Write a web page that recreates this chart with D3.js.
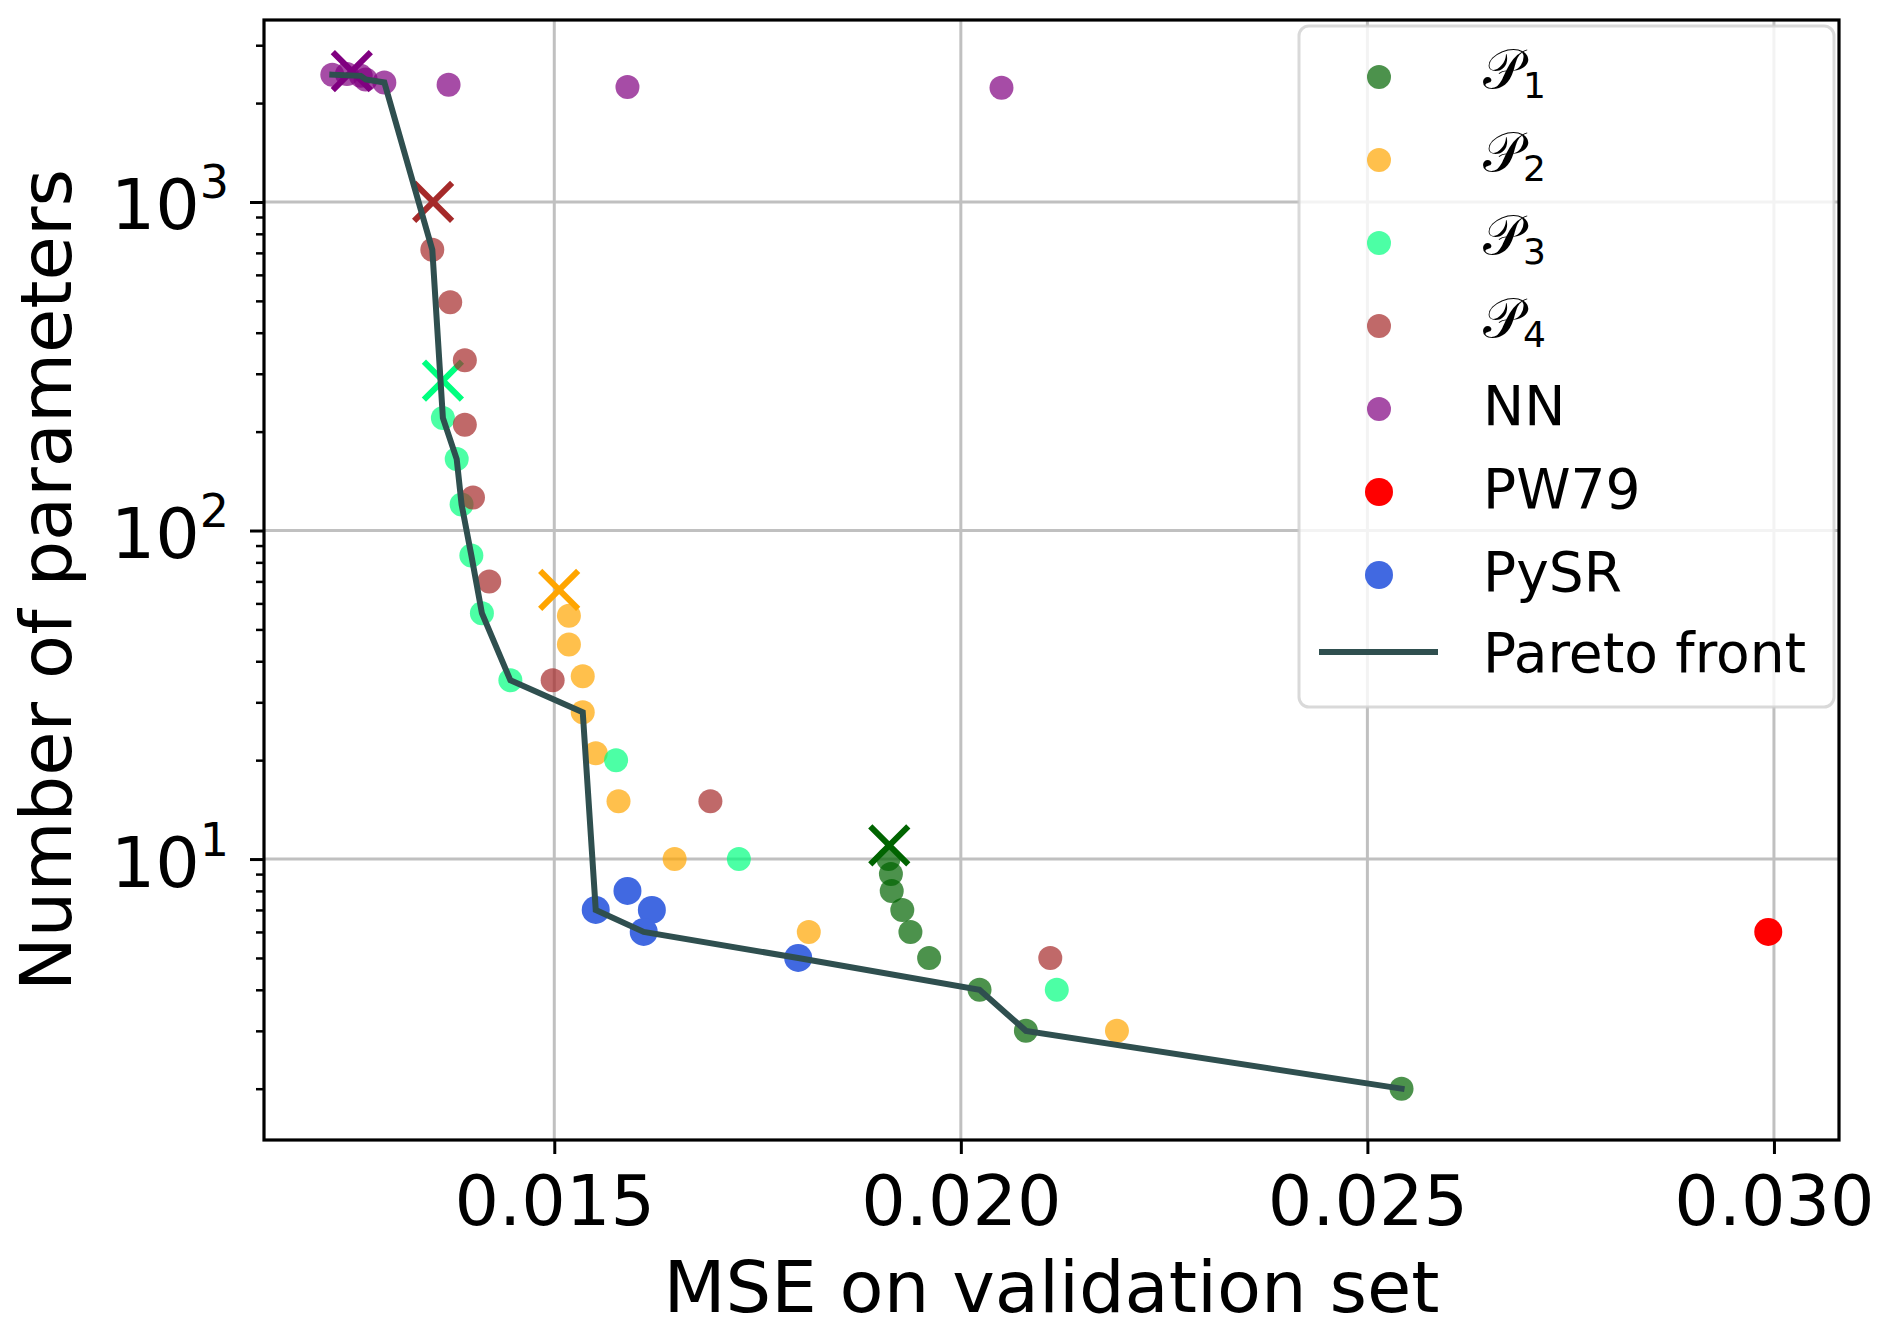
<!DOCTYPE html>
<html>
<head>
<meta charset="utf-8">
<script src="https://cdn.jsdelivr.net/npm/d3@7"></script>
<style>
  body { margin: 0; background: #fff; }
  text { font-family: "DejaVu Sans", sans-serif; fill: #000; }
</style>
</head>
<body>
<div id="chart"></div>
<script>
// data: MSE on validation set vs number of parameters
const p1Params = [2, 3, 4, 5, 6, 7, 8, 9, 10];
const p1Mse = [0.02542, 0.0208, 0.02023, 0.01961, 0.01938, 0.01928, 0.01915, 0.01914, 0.01911];
const p1Best = [0.01912, 11];

const p2Params = [3, 6, 10, 15, 21, 28, 36, 45, 55];
const p2Mse = [0.02192, 0.01813, 0.01648, 0.01579, 0.01551, 0.01535, 0.01535, 0.01518, 0.01518];
const p2Best = [0.01506, 66];

const p3Params = [4, 10, 20, 35, 56, 84, 120, 165, 220];
const p3Mse = [0.02118, 0.01727, 0.01576, 0.01446, 0.01411, 0.01398, 0.01386, 0.0138, 0.01363];
const p3Best = [0.01363, 286];

const p4Params = [5, 15, 35, 70, 126, 210, 330, 495, 715];
const p4Mse = [0.0211, 0.01692, 0.01498, 0.0142, 0.014, 0.0139, 0.0139, 0.01372, 0.0135];
const p4Best = [0.01351, 1001];

const nnParams = [2440, 2450, 2420, 2360, 2310, 2275, 2240, 2227];
const nnMse = [0.01227, 0.01245, 0.01262, 0.01268, 0.01291, 0.0137, 0.0159, 0.0205];
const nnBest = [0.01251, 2500];

const pwParams = [6];
const pwMse = [0.02993];

const pysrParams = [7, 8, 7, 6, 5];
const pysrMse = [0.01551, 0.0159, 0.0162, 0.0161, 0.018];

const paretoParams = [2440, 2420, 2360, 2310, 715, 220, 165, 120, 84, 56, 35, 28, 7, 6, 5, 4, 3, 2];
const paretoMse = [0.01227, 0.01262, 0.01268, 0.01291, 0.0135, 0.01363, 0.0138, 0.01386, 0.01398,
                   0.01411, 0.01446, 0.01535, 0.01551, 0.0161, 0.018, 0.02023, 0.0208, 0.02542];

const xTicks = [0.015, 0.020, 0.025, 0.030];
const xTickLabels = ['0.015', '0.020', '0.025', '0.030'];
const yTicks = [10, 100, 1000];
const yTickExp = ['1', '2', '3'];

// groups in drawing order
const groups = [
  { name: 'P', sub: '1', color: '#006400', mse: p1Mse, params: p1Params, best: p1Best, r: 12, alpha: 0.7 },
  { name: 'P', sub: '2', color: '#ffa500', mse: p2Mse, params: p2Params, best: p2Best, r: 12, alpha: 0.7 },
  { name: 'P', sub: '3', color: '#00ff7f', mse: p3Mse, params: p3Params, best: p3Best, r: 12, alpha: 0.7 },
  { name: 'P', sub: '4', color: '#a52a2a', mse: p4Mse, params: p4Params, best: p4Best, r: 12, alpha: 0.7 },
  { name: 'NN', color: '#800080', mse: nnMse, params: nnParams, best: nnBest, r: 12, alpha: 0.7 },
  { name: 'PW79', color: '#ff0000', mse: pwMse, params: pwParams, r: 14, alpha: 1 },
  { name: 'PySR', color: '#4169e1', mse: pysrMse, params: pysrParams, r: 14, alpha: 1 }
];

const width = 1892;
const height = 1330;
const mLeft = 264, mRight = 1839, mTop = 20, mBottom = 1140;

const svg = d3.select('#chart')
  .append('svg')
  .attr('width', width)
  .attr('height', height);

const x = d3.scaleLinear()
  .domain([0.01143, 0.0308])
  .range([mLeft, mRight]);

const y = d3.scaleLog()
  .domain([1.396, 3580])
  .range([mBottom, mTop]);

// grid
svg.append('g')
  .selectAll('line')
  .data(xTicks)
  .enter()
  .append('line')
  .attr('x1', d => x(d)).attr('x2', d => x(d))
  .attr('y1', mTop).attr('y2', mBottom)
  .attr('stroke', '#c0c0c0')
  .attr('stroke-width', 3);

svg.append('g')
  .selectAll('line')
  .data(yTicks)
  .enter()
  .append('line')
  .attr('x1', mLeft).attr('x2', mRight)
  .attr('y1', d => y(d)).attr('y2', d => y(d))
  .attr('stroke', '#c0c0c0')
  .attr('stroke-width', 3);

// axes
const xAxis = d3.axisBottom(x)
  .tickValues(xTicks)
  .tickSize(14)
  .tickFormat((d, i) => xTickLabels[i]);

const gx = svg.append('g')
  .attr('transform', `translate(0, ${mBottom})`)
  .call(xAxis);
gx.select('.domain').remove();
gx.selectAll('.tick line').attr('stroke-width', 3);
gx.selectAll('.tick text')
  .attr('font-size', 70)
  .attr('font-family', 'DejaVu Sans')
  .attr('fill', '#000')
  .attr('dy', null)
  .attr('y', 85);

const minorY = [];
[1, 10, 100, 1000].forEach(dec => {
  for (let k = 2; k <= 9; k++) {
    const v = dec * k;
    if (v > y.domain()[0] && v < y.domain()[1]) minorY.push(v);
  }
});

const gyMinor = svg.append('g')
  .attr('transform', `translate(${mLeft}, 0)`)
  .call(d3.axisLeft(y).tickValues(minorY).tickSize(8).tickFormat(''));
gyMinor.select('.domain').remove();
gyMinor.selectAll('.tick line').attr('stroke-width', 2.5);

const gy = svg.append('g')
  .attr('transform', `translate(${mLeft}, 0)`)
  .call(d3.axisLeft(y).tickValues(yTicks).tickSize(14).tickFormat(''));
gy.select('.domain').remove();
gy.selectAll('.tick line').attr('stroke-width', 3);

// y tick labels 10^k
gy.selectAll('.tick').each(function (d, i) {
  const t = d3.select(this).append('text')
    .attr('x', -35)
    .attr('y', 27)
    .attr('text-anchor', 'end')
    .attr('font-size', 70)
    .attr('fill', '#000');
  t.append('tspan').text('10');
  t.append('tspan')
    .attr('dy', -31)
    .attr('font-size', 46)
    .text(yTickExp[i]);
});

// points
const plot = svg.append('g');

groups.forEach(g => {
  plot.append('g')
    .selectAll('circle')
    .data(g.mse.map((m, i) => [m, g.params[i]]))
    .enter()
    .append('circle')
    .attr('cx', d => x(d[0]))
    .attr('cy', d => y(d[1]))
    .attr('r', g.r)
    .attr('fill', g.color)
    .attr('fill-opacity', g.alpha);

  if (g.best) {
    const s = 19;
    const cx = x(g.best[0]);
    const cy = y(g.best[1]);
    plot.append('path')
      .attr('d', `M${cx - s},${cy - s}L${cx + s},${cy + s}M${cx - s},${cy + s}L${cx + s},${cy - s}`)
      .attr('stroke', g.color)
      .attr('stroke-width', 6)
      .attr('fill', 'none');
  }
});

// Pareto front
const line = d3.line()
  .x(d => x(d[0]))
  .y(d => y(d[1]));

plot.append('path')
  .datum(paretoMse.map((m, i) => [m, paretoParams[i]]))
  .attr('fill', 'none')
  .attr('stroke', '#2f4f4f')
  .attr('stroke-width', 6)
  .attr('stroke-linejoin', 'miter')
  .attr('stroke-linecap', 'square')
  .attr('d', line);

// frame
svg.append('rect')
  .attr('x', mLeft).attr('y', mTop)
  .attr('width', mRight - mLeft).attr('height', mBottom - mTop)
  .attr('fill', 'none')
  .attr('stroke', '#000')
  .attr('stroke-width', 3.2);

// axis labels
svg.append('text')
  .attr('x', (mLeft + mRight) / 2)
  .attr('y', 1312)
  .attr('text-anchor', 'middle')
  .attr('font-size', 72)
  .text('MSE on validation set');

svg.append('text')
  .attr('transform', `translate(71, ${(mTop + mBottom) / 2}) rotate(-90)`)
  .attr('text-anchor', 'middle')
  .attr('font-size', 72)
  .text('Number of parameters');

// legend
const legend = svg.append('g');

legend.append('rect')
  .attr('x', 1299).attr('y', 26)
  .attr('width', 535).attr('height', 681)
  .attr('rx', 10)
  .attr('fill', '#fff')
  .attr('fill-opacity', 0.8)
  .attr('stroke', '#d0d0d0')
  .attr('stroke-opacity', 0.8)
  .attr('stroke-width', 3);

const rowY = i => 77 + i * 83;

groups.forEach((g, i) => {
  legend.append('circle')
    .attr('cx', 1379)
    .attr('cy', rowY(i))
    .attr('r', g.r)
    .attr('fill', g.color)
    .attr('fill-opacity', g.alpha);

  if (g.sub) {
    const t = legend.append('text')
      .attr('x', 1483)
      .attr('y', rowY(i) + 11)
      .attr('font-size', 55);
    t.append('tspan').text('\u{1D4AB}');
    t.append('tspan')
      .attr('dy', 10)
      .attr('font-size', 36)
      .text(g.sub);
  } else {
    legend.append('text')
      .attr('x', 1483)
      .attr('y', rowY(i) + 16)
      .attr('font-size', 55)
      .text(g.name);
  }
});

const lastRow = rowY(groups.length) - 6;
legend.append('line')
  .attr('x1', 1319).attr('x2', 1438)
  .attr('y1', lastRow).attr('y2', lastRow)
  .attr('stroke', '#2f4f4f')
  .attr('stroke-width', 6);

legend.append('text')
  .attr('x', 1483)
  .attr('y', lastRow + 20)
  .attr('font-size', 55)
  .text('Pareto front');
</script>
</body>
</html>
